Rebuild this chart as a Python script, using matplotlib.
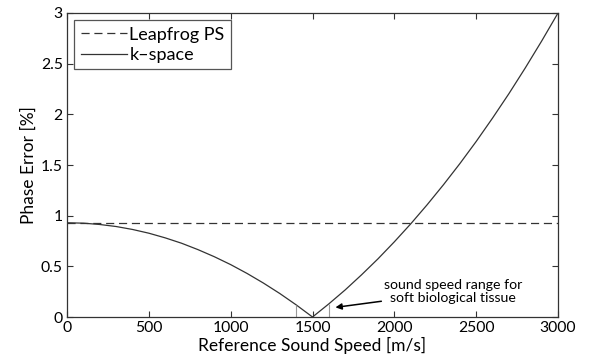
import matplotlib.pyplot as plt
import numpy as np

plt.rcParams['font.family'] = ['Lato', 'DejaVu Sans']

# Phase error vs reference sound speed (medium sound speed 1500 m/s)
ref_speed = [0, 100, 200, 300, 400, 500, 600, 700, 800, 900, 1000, 1100, 1200,
             1300, 1400, 1500, 1600, 1700, 1800, 1900, 2000, 2100, 2200, 2300,
             2400, 2500, 2600, 2700, 2800, 2900, 3000]
kspace_err = [0.930, 0.926, 0.913, 0.893, 0.864, 0.827, 0.781, 0.728, 0.665,
              0.595, 0.517, 0.430, 0.335, 0.232, 0.120, 0.0, 0.130, 0.268,
              0.417, 0.574, 0.742, 0.919, 1.107, 1.305, 1.513, 1.732, 1.963,
              2.204, 2.458, 2.723, 3.000]
leapfrog_err = 0.93

# soft tissue sound speed range
tissue_range = [1400, 1600]
tissue_err = [0.120, 0.130]

fig = plt.figure(figsize=(6.07, 3.64), dpi=100)
ax = fig.add_axes([0.1104, 0.1291, 0.8089, 0.8352])

dark = '#333333'
ax.axhline(leapfrog_err, color=dark, lw=0.9, linestyle=(0, (6.5, 3.8)),
           label='Leapfrog PS')
ax.plot(ref_speed, kspace_err, color=dark, lw=0.9, label='k\u2013space')
ax.vlines(tissue_range, 0, tissue_err, color='#999999', lw=0.8)

ax.annotate('sound speed range for\nsoft biological tissue',
            xy=(1640, 0.095), xytext=(2360, 0.25),
            ha='center', va='center', fontsize=10.2, linespacing=1.1,
            arrowprops=dict(arrowstyle='-|>', color='black', lw=1.1,
                            shrinkA=41, shrinkB=0, mutation_scale=9))

ax.set_xlim(0, 3000)
ax.set_ylim(0, 3)
ax.set_xticks(np.arange(0, 3001, 500))
ax.set_yticks(np.arange(0, 3.01, 0.5))
ax.set_yticklabels(['0', '0.5', '1', '1.5', '2', '2.5', '3'])
ax.tick_params(direction='in', top=True, right=True, length=4, width=0.8,
               color=dark, labelsize=11.3, pad=3)
for s in ax.spines.values():
    s.set_color(dark)
    s.set_linewidth(0.9)

ax.set_xlabel('Reference Sound Speed [m/s]', fontsize=12.5, labelpad=1)
ax.set_ylabel('Phase Error [%]', fontsize=12.5, labelpad=3)

leg = ax.legend(loc='upper left', fontsize=13, fancybox=False,
                edgecolor='#555555', framealpha=1, handlelength=2.55,
                handletextpad=0.15, borderpad=0.35, labelspacing=0.25,
                borderaxespad=0.4)
leg.get_frame().set_linewidth(0.9)

fig.savefig('out.png', dpi=100)
